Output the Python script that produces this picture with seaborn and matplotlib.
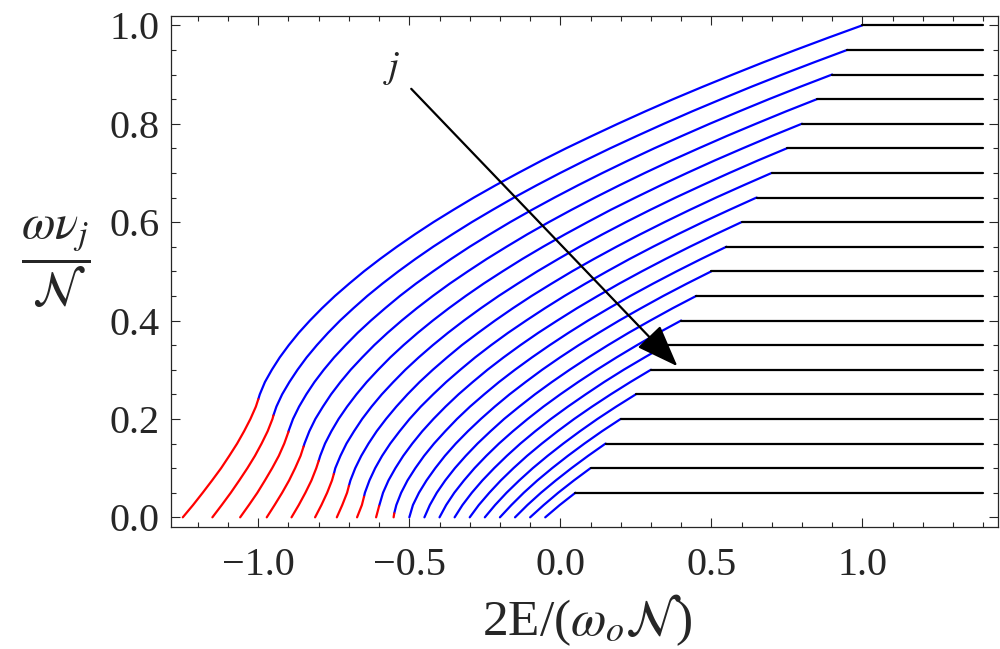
import numpy as np
import pandas as pd
import seaborn as sns
import matplotlib
matplotlib.use('Agg')
import matplotlib.pyplot as plt

# levels omega*nu_j/N of the plateaus (one curve per j)
levels = [0.05, 0.10, 0.15, 0.20, 0.25, 0.30, 0.35, 0.40, 0.45, 0.50,
          0.55, 0.60, 0.65, 0.70, 0.75, 0.80, 0.85, 0.90, 0.95, 1.00]

# y values at which the x positions below were read
nu_grid = [0.0, 0.025, 0.05, 0.075, 0.1, 0.125, 0.15, 0.175, 0.2, 0.225,
           0.25, 0.275, 0.3, 0.325, 0.35, 0.375, 0.4, 0.425, 0.45, 0.475,
           0.5, 0.525, 0.55, 0.575, 0.6, 0.625, 0.65, 0.675, 0.7, 0.725,
           0.75, 0.775, 0.8, 0.825, 0.85, 0.875, 0.9, 0.925, 0.95, 0.975, 1.0]

# 2E/(w0 N) of each curve at nu_grid, up to its plateau
e_05 = [-0.05, -0.002, 0.05]
e_10 = [-0.1, -0.055, -0.007, 0.045, 0.1]
e_15 = [-0.15, -0.109, -0.064, -0.015, 0.037, 0.092, 0.15]
e_20 = [-0.2, -0.162, -0.121, -0.076, -0.027, 0.025, 0.08, 0.138, 0.2]
e_25 = [-0.25, -0.216, -0.178, -0.136, -0.091, -0.042, 0.01, 0.065, 0.123, 0.185, 0.25]
e_30 = [-0.3, -0.27, -0.235, -0.197, -0.155, -0.11, -0.061, -0.009, 0.046, 0.105, 0.167,
        0.232, 0.3]
e_35 = [-0.35, -0.324, -0.293, -0.258, -0.219, -0.177, -0.132, -0.083, -0.031, 0.025,
        0.084, 0.145, 0.21, 0.279, 0.35]
e_40 = [-0.4, -0.378, -0.351, -0.319, -0.284, -0.245, -0.203, -0.157, -0.108, -0.056,
        0.0, 0.059, 0.121, 0.186, 0.254, 0.325, 0.4]
e_45 = [-0.45, -0.432, -0.409, -0.381, -0.349, -0.313, -0.274, -0.231, -0.186, -0.136,
        -0.084, -0.028, 0.031, 0.093, 0.158, 0.226, 0.298, 0.372, 0.45]
e_50 = [-0.5, -0.488, -0.468, -0.443, -0.414, -0.382, -0.346, -0.306, -0.263, -0.217,
        -0.168, -0.115, -0.06, -0.001, 0.061, 0.127, 0.195, 0.267, 0.341, 0.419, 0.5]
e_55 = [-0.552, -0.543, -0.527, -0.506, -0.48, -0.451, -0.418, -0.381, -0.342, -0.299,
        -0.252, -0.203, -0.15, -0.094, -0.035, 0.027, 0.092, 0.161, 0.232, 0.307, 0.385,
        0.466, 0.55]
e_60 = [-0.61, -0.599, -0.587, -0.569, -0.546, -0.52, -0.49, -0.457, -0.42, -0.38,
        -0.337, -0.29, -0.241, -0.188, -0.132, -0.073, -0.01, 0.055, 0.124, 0.195, 0.27,
        0.348, 0.429, 0.513, 0.6]
e_65 = [-0.673, -0.657, -0.647, -0.632, -0.613, -0.59, -0.563, -0.532, -0.499, -0.462,
        -0.421, -0.378, -0.331, -0.282, -0.229, -0.173, -0.113, -0.051, 0.014, 0.083,
        0.155, 0.229, 0.307, 0.388, 0.472, 0.56, 0.65]
e_70 = [-0.74, -0.722, -0.706, -0.695, -0.679, -0.659, -0.635, -0.608, -0.577, -0.543,
        -0.506, -0.466, -0.422, -0.375, -0.326, -0.272, -0.216, -0.157, -0.095, -0.029,
        0.039, 0.111, 0.186, 0.264, 0.345, 0.429, 0.516, 0.607, 0.7]
e_75 = [-0.812, -0.791, -0.772, -0.756, -0.745, -0.728, -0.708, -0.683, -0.656, -0.625,
        -0.591, -0.553, -0.513, -0.469, -0.422, -0.372, -0.319, -0.263, -0.204, -0.141,
        -0.076, -0.007, 0.064, 0.139, 0.217, 0.298, 0.382, 0.47, 0.56, 0.653, 0.75]
e_80 = [-0.89, -0.866, -0.844, -0.824, -0.808, -0.795, -0.779, -0.758, -0.734, -0.706,
        -0.675, -0.641, -0.603, -0.563, -0.519, -0.472, -0.422, -0.369, -0.313, -0.254,
        -0.191, -0.126, -0.057, 0.015, 0.09, 0.167, 0.249, 0.333, 0.42, 0.51, 0.604, 0.7,
        0.8]
e_85 = [-0.972, -0.946, -0.921, -0.898, -0.878, -0.86, -0.847, -0.831, -0.811, -0.786,
        -0.759, -0.728, -0.694, -0.656, -0.616, -0.572, -0.525, -0.475, -0.422, -0.366,
        -0.306, -0.244, -0.178, -0.11, -0.038, 0.037, 0.115, 0.196, 0.28, 0.367, 0.458,
        0.551, 0.648, 0.747, 0.85]
e_90 = [-1.06, -1.031, -1.003, -0.978, -0.954, -0.932, -0.914, -0.9, -0.885, -0.865,
        -0.841, -0.814, -0.783, -0.749, -0.711, -0.671, -0.627, -0.58, -0.531, -0.478,
        -0.421, -0.362, -0.3, -0.234, -0.166, -0.094, -0.019, 0.059, 0.14, 0.224, 0.311,
        0.402, 0.495, 0.592, 0.691, 0.794, 0.9]
e_95 = [-1.152, -1.121, -1.091, -1.063, -1.036, -1.011, -0.989, -0.969, -0.953, -0.94,
        -0.921, -0.897, -0.87, -0.84, -0.806, -0.769, -0.729, -0.685, -0.639, -0.589,
        -0.536, -0.48, -0.421, -0.358, -0.293, -0.224, -0.153, -0.078, 0.0, 0.081, 0.165,
        0.253, 0.343, 0.436, 0.533, 0.632, 0.735, 0.841, 0.95]
e_100 = [-1.25, -1.216, -1.184, -1.153, -1.123, -1.096, -1.07, -1.047, -1.026, -1.008,
         -0.995, -0.978, -0.955, -0.929, -0.899, -0.866, -0.829, -0.789, -0.746, -0.699,
         -0.65, -0.597, -0.541, -0.482, -0.42, -0.354, -0.286, -0.214, -0.139, -0.062,
         0.019, 0.104, 0.191, 0.281, 0.374, 0.471, 0.571, 0.673, 0.779, 0.888, 1.0]
curves = [e_05, e_10, e_15, e_20, e_25, e_30, e_35, e_40, e_45, e_50,
          e_55, e_60, e_65, e_70, e_75, e_80, e_85, e_90, e_95, e_100]

# where each curve turns from red to blue (at 2E/(w0 N) = -level)
nu_split = [0.0, 0.0, 0.0, 0.0, 0.0, 0.0, 0.0, 0.0, 0.0, 0.0,
            0.008, 0.023, 0.042, 0.064, 0.088, 0.115, 0.144, 0.174, 0.207, 0.24]
e_end = 1.4

#build long table: one row per point, seg = line piece
rows = []
for i, (m, xs, yt) in enumerate(zip(levels, curves, nu_split)):
    pts = list(zip(xs, nu_grid))
    if yt > 0:
        red = [(a, b) for a, b in pts if b < yt] + [(-m, yt)]
        for a, b in red:
            rows.append(('r%d' % i, 'red', a, b))
    blue = [(-m, yt)] + [(a, b) for a, b in pts if b > yt]
    for a, b in blue:
        rows.append(('b%d' % i, 'blue', a, b))
    rows.append(('k%d' % i, 'black', m, m))
    rows.append(('k%d' % i, 'black', e_end, m))
df = pd.DataFrame(rows, columns=['seg', 'part', 'x', 'y'])

sns.set_style('ticks')
plt.rcParams['font.family'] = ['Liberation Serif', 'DejaVu Serif']
plt.rcParams['mathtext.fontset'] = 'stix'

fig = plt.figure(figsize=(10, 6.49), dpi=100)
ax = fig.add_axes([0.171, 0.1875, 0.827, 0.7886])
sns.lineplot(data=df, x='x', y='y', hue='part', units='seg', estimator=None, sort=False,
             palette={'red': '#ff0000', 'blue': '#0000ff', 'black': 'black'},
             legend=False, linewidth=1.6, ax=ax)
ax.set_xlim(-1.289, 1.449)
ax.set_ylim(-0.0203, 1.0199)
ax.set_xticks([-1.0, -0.5, 0.0, 0.5, 1.0])
ax.set_xticks(np.arange(-1.2, 1.45, 0.1), minor=True)
ax.set_yticks(np.arange(0, 1.01, 0.2))
ax.set_yticks(np.arange(0, 1.01, 0.05), minor=True)
ax.set_xticklabels(['\u22121.0', '\u22120.5', '0.0', '0.5', '1.0'])
ax.set_yticklabels(['0.0', '0.2', '0.4', '0.6', '0.8', '1.0'])
ax.tick_params(which='both', direction='in', top=True, right=True, width=0.8, labelsize=29)
ax.tick_params(which='major', length=6.5)
ax.tick_params(which='minor', length=3.5)
ax.tick_params(axis='x', pad=14)
ax.tick_params(axis='y', pad=8)
for sp in ax.spines.values():
    sp.set_linewidth(0.9)
ax.set_xlabel('')
ax.set_ylabel('')

fig.text(0.587, 1 - 620/649, r'2E/($\omega_o\mathcal{N}$)', ha='center', va='center', fontsize=37)
fig.text(0.056, 1 - 262/649, r'$\dfrac{\omega\nu_j}{\mathcal{N}}$', ha='center', va='center', fontsize=35)

#arrow for increasing j
ax.annotate('', xy=(0.394, 0.303), xytext=(-0.5, 0.875),
            arrowprops=dict(arrowstyle='-|>,head_length=1.2,head_width=0.45', color='black',
                            lw=1.6, mutation_scale=22))
ax.text(-0.558, 0.913, r'$j$', fontsize=28, ha='center', va='center')

fig.savefig('out.png', dpi=100)
